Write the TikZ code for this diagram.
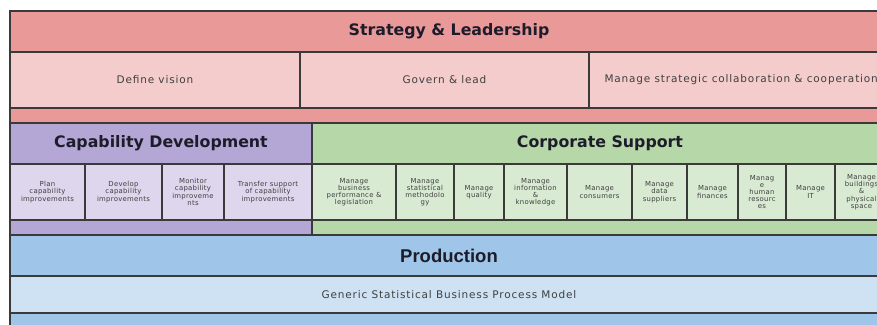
\documentclass[tikz,border=0pt]{standalone}
\usepackage{fontspec}
\setmainfont{DejaVu Sans}
\newfontfamily\prodfont{Liberation Sans}
\newfontfamily\midfont[LetterSpace=8]{DejaVu Sans}
\newfontfamily\smallfont[LetterSpace=4]{DejaVu Sans}
\definecolor{redH}{HTML}{EA9999}
\definecolor{redL}{HTML}{F4CCCC}
\definecolor{purH}{HTML}{B4A7D6}
\definecolor{purL}{HTML}{DDD6EC}
\definecolor{grnH}{HTML}{B6D7A8}
\definecolor{grnL}{HTML}{D9EAD3}
\definecolor{bluH}{HTML}{9FC5E8}
\definecolor{bluL}{HTML}{CFE2F3}
\definecolor{lineC}{HTML}{3A3A3A}
\definecolor{txtC}{HTML}{1C1C2A}
\definecolor{subC}{HTML}{404040}
\newcommand{\bx}[7]{\node[box, fill=#6, minimum width={#4pt-#2pt}, minimum height={#5pt-#3pt}] (#1) at ({(#2+#4)/2},{(#3+#5)/2}) {#7};}
\begin{document}
\begin{tikzpicture}[x=1pt,y=-1pt,
  box/.style={draw=lineC, line width=1.1pt, inner sep=0pt, align=center},
  head/.style={font=\fontsize{15.8}{17}\selectfont\bfseries, text=txtC},
  mid/.style={font=\midfont\fontsize{10.5}{12}\selectfont, text=subC},
  small/.style={font=\smallfont\fontsize{6.9}{7.2}\selectfont, text=subC, align=center, inner sep=0pt}]
\useasboundingbox (0,0) rectangle (877,324);
\fill[white] (0,0) rectangle (877,324);
\clip (0,0) rectangle (877,324);
% Strategy & Leadership
\bx{slband}{10}{108}{888}{123}{redH}{}
\bx{sl}{10}{11}{888}{52}{redH}{}
\node[head] (slt) at (sl.center) {Strategy \& Leadership};
\bx{dv}{10}{52}{300}{108}{redL}{}
\node[mid] at (dv.center) {Define vision};
\bx{gl}{300}{52}{589}{108}{redL}{}
\node[mid] at (gl.center) {Govern \& lead};
\bx{ms}{589}{52}{888}{108}{redL}{}
\node[mid, anchor=west] at (601,80) {Manage strategic collaboration \& cooperation};
% Capability Development
\bx{cdband}{10}{220}{312}{235}{purH}{}
\bx{cd}{10}{123}{312}{164}{purH}{}
\node[head] at (cd.center) {Capability Development};
\bx{cd1}{10}{164}{85}{220}{purL}{}
\node[small] at (cd1.center) {Plan\\capability\\improvements};
\bx{cd2}{85}{164}{162}{220}{purL}{}
\node[small] at (cd2.center) {Develop\\capability\\improvements};
\bx{cd3}{162}{164}{224}{220}{purL}{}
\node[small] at (cd3.center) {Monitor\\capability\\improveme\\nts};
\bx{cd4}{224}{164}{312}{220}{purL}{}
\node[small] at (cd4.center) {Transfer support\\of capability\\improvements};
% Corporate Support
\bx{csband}{312}{220}{888}{235}{grnH}{}
\bx{cs}{312}{123}{888}{164}{grnH}{}
\node[head] at (cs.center) {Corporate Support};
\bx{cs1}{312}{164}{396}{220}{grnL}{}
\node[small] at (cs1.center) {Manage\\business\\performance \&\\legislation};
\bx{cs2}{396}{164}{454}{220}{grnL}{}
\node[small] at (cs2.center) {Manage\\statistical\\methodolo\\gy};
\bx{cs3}{454}{164}{504}{220}{grnL}{}
\node[small] at (cs3.center) {Manage\\quality};
\bx{cs4}{504}{164}{567}{220}{grnL}{}
\node[small] at (cs4.center) {Manage\\information\\\&\\knowledge};
\bx{cs5}{567}{164}{632}{220}{grnL}{}
\node[small] at (cs5.center) {Manage\\consumers};
\bx{cs6}{632}{164}{687}{220}{grnL}{}
\node[small] at (cs6.center) {Manage\\data\\suppliers};
\bx{cs7}{687}{164}{738}{220}{grnL}{}
\node[small] at (cs7.center) {Manage\\finances};
\bx{cs8}{738}{164}{786}{220}{grnL}{}
\node[small] at (cs8.center) {Manag\\e\\human\\resourc\\es};
\bx{cs9}{786}{164}{835}{220}{grnL}{}
\node[small] at (cs9.center) {Manage\\IT};
\bx{cs10}{835}{164}{888}{220}{grnL}{}
\node[small] at (cs10.center) {Manage\\buildings\\\&\\physical\\space};
% Production
\bx{prband}{10}{313}{888}{340}{bluH}{}
\bx{pr}{10}{235}{888}{276}{bluH}{}
\node[font=\prodfont\fontsize{18.5}{20}\selectfont\bfseries, text=txtC] at (449,255.5) {Production};
\bx{gs}{10}{276}{888}{313}{bluL}{}
\node[mid] at (449,294.5) {Generic Statistical Business Process Model};
\end{tikzpicture}
\end{document}
